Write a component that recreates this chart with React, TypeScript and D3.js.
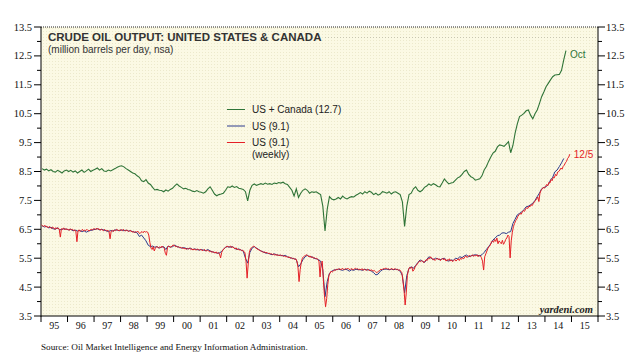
import React from 'react';
import * as d3 from 'd3';

// US + Canada, monthly, Jan 1995 - Oct 2014 (million b/d)
const usCanada = [
  8.60, 8.55, 8.58, 8.52, 8.56, 8.50, 8.48, 8.54, 8.50, 8.45, 8.52, 8.55,
  8.50, 8.54, 8.48, 8.52, 8.45, 8.50, 8.55, 8.47, 8.52, 8.58, 8.50, 8.54,
  8.58, 8.62, 8.55, 8.60, 8.52, 8.50, 8.55, 8.52, 8.56, 8.60, 8.65, 8.68,
  8.70, 8.66, 8.60, 8.55, 8.50, 8.45, 8.42, 8.35, 8.30, 8.18, 8.15, 8.22,
  8.10, 8.05, 7.95, 7.86, 7.88, 7.85, 7.84, 7.80, 7.86, 7.82, 7.88, 7.92,
  8.00, 8.07, 8.00, 7.95, 7.90, 7.92, 7.88, 7.86, 7.82, 7.80, 7.84, 7.80,
  7.78, 7.75, 7.80, 7.90, 7.97, 7.85, 7.72, 7.66, 7.70, 7.72, 7.75, 7.85,
  7.97, 7.95, 8.00, 7.95, 7.98, 7.92, 7.90, 7.88, 7.80, 7.48, 7.85, 8.02,
  8.07, 8.02, 8.05, 8.08, 8.05, 8.10, 8.06, 8.08, 8.05, 8.10, 8.08, 8.12,
  8.10, 8.13, 8.08, 8.05, 7.95, 7.85, 7.65, 7.90, 7.60, 7.75, 7.85, 7.90,
  7.85, 7.75, 7.80, 7.78, 7.80, 7.75, 7.70, 7.30, 6.44, 7.20, 7.63, 7.55,
  7.52, 7.55, 7.60, 7.55, 7.65, 7.58, 7.55, 7.60, 7.63, 7.62, 7.68, 7.72,
  7.77, 7.72, 7.80, 7.75, 7.82, 7.78, 7.70, 7.75, 7.68, 7.72, 7.80, 7.78,
  7.75, 7.80, 7.72, 7.78, 7.80, 7.75, 7.70, 7.45, 6.60, 7.30, 7.70, 7.75,
  7.90, 7.97, 7.85, 7.80, 7.85, 7.95, 8.00, 8.07, 8.02, 8.08, 8.04, 7.98,
  7.97, 8.10, 8.24, 8.15, 8.07, 8.10, 8.12, 8.20, 8.28, 8.32, 8.40, 8.50,
  8.55, 8.40, 8.32, 8.28, 8.20, 8.22, 8.25, 8.35, 8.55, 8.67, 8.85, 9.00,
  9.14, 9.20, 9.35, 9.42, 9.40, 9.37, 9.45, 9.53, 9.15, 9.40, 9.83, 10.15,
  10.40, 10.45, 10.51, 10.60, 10.63, 10.45, 10.32, 10.50, 10.63, 10.85, 11.09, 11.25,
  11.43, 11.55, 11.67, 11.78, 11.84, 11.85, 11.86, 12.00, 12.36, 12.68,
];

// US, monthly, Jan 1995 - Sep 2014
const usMonthly = [
  6.62, 6.58, 6.60, 6.55, 6.57, 6.52, 6.50, 6.55, 6.48, 6.50, 6.52, 6.50,
  6.48, 6.50, 6.45, 6.47, 6.44, 6.46, 6.42, 6.45, 6.40, 6.44, 6.46, 6.48,
  6.50, 6.52, 6.48, 6.50, 6.47, 6.45, 6.42, 6.46, 6.44, 6.48, 6.47, 6.45,
  6.48, 6.45, 6.47, 6.44, 6.45, 6.42, 6.40, 6.38, 6.25, 6.30, 6.20, 6.10,
  5.95, 5.90, 5.92, 5.88, 5.90, 5.85, 5.88, 5.90, 5.80, 5.92, 5.88, 5.90,
  5.95, 5.90, 5.88, 5.85, 5.87, 5.84, 5.82, 5.85, 5.80, 5.82, 5.80, 5.78,
  5.80, 5.78, 5.76, 5.80, 5.75, 5.72, 5.70, 5.68, 5.67, 5.72, 5.80, 5.88,
  5.90, 5.88, 5.90, 5.85, 5.80, 5.82, 5.78, 5.75, 5.50, 5.33, 5.70, 5.85,
  5.90, 5.85, 5.80, 5.75, 5.72, 5.68, 5.67, 5.65, 5.62, 5.65, 5.62, 5.60,
  5.60, 5.58, 5.60, 5.55, 5.52, 5.50, 5.48, 5.45, 5.20, 5.30, 5.45, 5.55,
  5.60, 5.55, 5.55, 5.50, 5.48, 5.45, 5.40, 5.10, 4.17, 4.70, 4.98, 5.05,
  5.09, 5.10, 5.12, 5.10, 5.08, 5.12, 5.10, 5.05, 5.10, 5.08, 5.12, 5.10,
  5.10, 5.08, 5.12, 5.09, 5.10, 5.05, 5.00, 4.92, 4.95, 5.05, 5.10, 5.12,
  5.12, 5.10, 5.12, 5.10, 5.12, 5.10, 5.05, 4.90, 4.30, 4.90, 5.15, 5.20,
  5.15, 5.25, 5.35, 5.44, 5.40, 5.35, 5.45, 5.55, 5.50, 5.45, 5.50, 5.48,
  5.44, 5.48, 5.50, 5.42, 5.40, 5.44, 5.42, 5.50, 5.48, 5.55, 5.52, 5.58,
  5.61, 5.55, 5.58, 5.60, 5.62, 5.60, 5.58, 5.62, 5.70, 5.80, 5.90, 6.00,
  6.13, 6.20, 6.28, 6.30, 6.37, 6.38, 6.35, 6.40, 6.42, 6.70, 6.85, 7.00,
  7.05, 7.10, 7.18, 7.28, 7.30, 7.35, 7.40, 7.50, 7.63, 7.75, 7.90, 7.95,
  7.97, 8.05, 8.20, 8.30, 8.49, 8.55, 8.67, 8.80, 8.95,
];

// US, weekly (read twice a month), Jan 1995 - 12/5/2014
const usWeekly = [
  6.65, 6.62, 6.60, 6.64, 6.58, 6.60, 6.55, 6.60, 6.57, 6.52, 6.58, 6.55, 6.50, 6.56, 6.52, 6.55, 6.50, 6.23, 6.52, 6.50, 6.55, 6.48, 6.52, 6.50,
  6.50, 6.46, 6.52, 6.48, 6.50, 6.45, 6.48, 6.44, 6.07, 6.45, 6.48, 6.42, 6.46, 6.50, 6.44, 6.47, 6.45, 6.50, 6.46, 6.44, 6.48, 6.50, 6.47, 6.52,
  6.52, 6.48, 6.54, 6.50, 6.52, 6.47, 6.50, 6.48, 6.45, 6.50, 6.46, 6.44, 6.47, 6.43, 6.17, 6.44, 6.46, 6.42, 6.48, 6.45, 6.50, 6.47, 6.45, 6.48,
  6.48, 6.45, 6.50, 6.46, 6.44, 6.48, 6.45, 6.42, 6.46, 6.44, 6.40, 6.43, 6.38, 6.42, 6.40, 6.44, 6.38, 6.35, 6.40, 6.42, 6.38, 6.44, 6.40, 6.42,
  6.40, 6.30, 6.05, 5.85, 5.80, 5.90, 5.75, 5.85, 5.90, 5.88, 5.85, 5.90, 5.86, 5.92, 5.88, 5.85, 5.67, 5.60, 5.88, 5.92, 5.90, 5.88, 5.92, 5.95,
  5.95, 5.90, 5.92, 5.88, 5.90, 5.86, 5.88, 5.84, 5.86, 5.82, 5.85, 5.80, 5.84, 5.82, 5.85, 5.80, 5.83, 5.78, 5.82, 5.80, 5.78, 5.82, 5.80, 5.78,
  5.80, 5.78, 5.76, 5.80, 5.78, 5.74, 5.78, 5.76, 5.72, 5.75, 5.70, 5.73, 5.70, 5.68, 5.72, 5.66, 5.70, 5.65, 5.51, 5.70, 5.78, 5.82, 5.86, 5.90,
  5.92, 5.88, 5.90, 5.92, 5.86, 5.90, 5.85, 5.82, 5.86, 5.80, 5.82, 5.78, 5.80, 5.76, 5.78, 5.72, 5.70, 5.40, 4.81, 5.30, 5.70, 5.82, 5.86, 5.90,
  5.92, 5.88, 5.85, 5.82, 5.80, 5.78, 5.76, 5.74, 5.72, 5.70, 5.72, 5.68, 5.70, 5.66, 5.68, 5.64, 5.66, 5.62, 5.65, 5.60, 5.63, 5.60, 5.62, 5.58,
  5.62, 5.58, 5.60, 5.56, 5.58, 5.54, 5.56, 5.52, 5.55, 5.50, 5.52, 5.48, 5.50, 5.46, 5.48, 5.40, 5.20, 4.69, 5.10, 5.35, 5.50, 5.55, 5.58, 5.60,
  5.62, 5.58, 5.55, 5.58, 5.52, 5.55, 5.50, 5.52, 5.48, 5.50, 5.45, 5.40, 4.85, 5.35, 5.40, 4.75, 4.20, 3.82, 4.10, 4.60, 4.90, 4.98, 5.05, 5.02,
  5.05, 5.10, 5.08, 5.12, 5.10, 5.14, 5.12, 5.10, 5.15, 5.12, 5.10, 5.14, 5.12, 5.16, 5.12, 5.10, 5.14, 5.12, 5.10, 5.13, 5.15, 5.12, 5.14, 5.10,
  5.12, 5.10, 5.14, 5.08, 5.12, 5.10, 5.08, 5.12, 5.10, 5.06, 5.10, 5.08, 5.05, 5.08, 5.04, 5.00, 5.02, 5.05, 5.08, 5.12, 5.10, 5.14, 5.12, 5.15,
  5.15, 5.12, 5.14, 5.10, 5.12, 5.15, 5.10, 5.12, 5.14, 5.10, 5.12, 5.08, 5.10, 5.05, 5.00, 4.70, 4.40, 3.88, 4.30, 4.90, 5.10, 5.18, 5.15, 5.20,
  5.05, 5.10, 5.20, 5.25, 5.30, 5.35, 5.40, 5.38, 5.42, 5.38, 5.35, 5.40, 5.45, 5.42, 5.50, 5.48, 5.55, 5.50, 5.45, 5.48, 5.42, 5.46, 5.50, 5.45,
  5.48, 5.42, 5.46, 5.50, 5.44, 5.48, 5.40, 5.45, 5.42, 5.48, 5.40, 5.44, 5.38, 5.42, 5.46, 5.40, 5.44, 5.48, 5.42, 5.50, 5.46, 5.52, 5.48, 5.55,
  5.58, 5.52, 5.56, 5.60, 5.55, 5.58, 5.62, 5.56, 5.60, 5.58, 5.62, 5.55, 5.60, 5.58, 5.52, 5.40, 5.09, 5.55, 5.65, 5.75, 5.85, 5.90, 5.95, 6.05,
  6.10, 6.05, 6.15, 6.08, 6.20, 6.00, 6.10, 6.05, 6.00, 6.12, 5.98, 6.05, 6.15, 6.20, 6.30, 6.25, 5.51, 6.10, 6.40, 6.60, 6.70, 6.80, 6.85, 6.95,
  7.00, 7.05, 7.02, 7.10, 7.15, 7.12, 7.20, 7.25, 7.22, 7.30, 7.28, 7.35, 7.32, 7.40, 7.45, 7.50, 7.55, 7.62, 7.46, 7.75, 7.85, 7.90, 7.95, 7.92,
  7.98, 8.05, 8.00, 8.12, 8.10, 8.22, 8.18, 8.30, 8.28, 8.40, 8.35, 8.48, 8.50, 8.55, 8.62, 8.58, 8.68, 8.72, 8.80, 8.85, 8.95, 9.00, 9.10,
];

const yearLabels = ['95', '96', '97', '98', '99', '00', '01', '02', '03', '04', '05',
  '06', '07', '08', '09', '10', '11', '12', '13', '14', '15'];
const majorTicks = [3.5, 4.5, 5.5, 6.5, 7.5, 8.5, 9.5, 10.5, 11.5, 12.5, 13.5];
const minorTicks = [4, 5, 6, 7, 8, 9, 10, 11, 12, 13];

const legendItems = [
  { label: 'US + Canada (12.7)', color: '#2f7437' },
  { label: 'US (9.1)', color: '#2c3a8c' },
  { label: 'US (9.1)', color: '#e51f26', sub: '(weekly)' },
];

const SANS = '"Liberation Sans", Arial, sans-serif';
const SERIF = '"Liberation Serif", "Times New Roman", serif';

export default function App() {
  const width = 637;
  const height = 354;
  const left = 41, right = 598, top = 27, bottom = 316;

  const x = d3.scaleLinear().domain([1995, 2016]).range([left, right]);
  const y = d3.scaleLinear().domain([3.5, 13.5]).range([bottom, top]);

  const line = d3.line<[number, number]>()
    .x(d => x(d[0]))
    .y(d => y(d[1]));

  // monthly points sit mid-month, weekly readings twice a month
  const monthly = (arr: number[]) => arr.map((v, i) => [1995 + (i + 0.5) / 12, v] as [number, number]);
  const halfMonthly = (arr: number[]) => arr.map((v, i) => [1995 + (i + 0.5) / 24, v] as [number, number]);

  const greenPts = monthly(usCanada);
  const bluePts = monthly(usMonthly);
  const redPts = halfMonthly(usWeekly);
  const greenEnd = greenPts[greenPts.length - 1];
  const redEnd = redPts[redPts.length - 1];

  const years = d3.range(1995, 2017);

  return (
    <svg width={width} height={height} style={{ position: 'absolute', left: 0, top: 0, background: '#fff' }}>
      <defs>
        <pattern id="dots" width="3" height="3" patternUnits="userSpaceOnUse">
          <rect width="3" height="3" fill="#fbf9e4" />
          <rect x="1" y="1" width="1" height="1" fill="#ece9cc" />
        </pattern>
      </defs>

      <rect x={left} y={top} width={right - left} height={bottom - top} fill="url(#dots)" />

      {/* frame */}
      <line x1={left} x2={right} y1={top} y2={top} stroke="#222" strokeDasharray="1,1" />
      <line x1={325} x2={right} y1={37.5} y2={37.5} stroke="#c8c6b0" strokeDasharray="1,2" />
      <line x1={left} x2={left} y1={top} y2={bottom + 0.5} stroke="#000" />
      <line x1={right} x2={right} y1={top} y2={bottom + 0.5} stroke="#000" />
      <line x1={left} x2={right} y1={bottom} y2={bottom} stroke="#000" />

      {/* y ticks both sides */}
      {majorTicks.map(t => (
        <g key={'M' + t}>
          <line x1={left - 7} x2={left} y1={y(t)} y2={y(t)} stroke="#000" />
          <line x1={right} x2={right + 7} y1={y(t)} y2={y(t)} stroke="#000" />
          <text x={left - 9} y={y(t) + 3.5} textAnchor="end" fontFamily={SERIF} fontSize={10.5} fill="#111">{t.toFixed(1)}</text>
          <text x={right + 8} y={y(t) + 3.5} fontFamily={SERIF} fontSize={10.5} fill="#111">{t.toFixed(1)}</text>
        </g>
      ))}
      {minorTicks.map(t => (
        <g key={'m' + t}>
          <line x1={left - 4} x2={left} y1={y(t)} y2={y(t)} stroke="#000" />
          <line x1={right} x2={right + 4} y1={y(t)} y2={y(t)} stroke="#000" />
        </g>
      ))}

      {/* x ticks and year labels */}
      {years.map(yr => (
        <line key={yr} x1={x(yr)} x2={x(yr)} y1={bottom} y2={bottom + 6} stroke="#000" />
      ))}
      {yearLabels.map((lab, i) => (
        <text key={lab} x={x(1995 + i + 0.5)} y={bottom + 13} textAnchor="middle" fontFamily={SERIF} fontSize={10} fill="#111">{lab}</text>
      ))}

      {/* series */}
      <path d={line(greenPts) || ''} fill="none" stroke="#2f7437" strokeWidth={1.1} />
      <path d={line(bluePts) || ''} fill="none" stroke="#2c3a8c" strokeWidth={1} />
      <path d={line(redPts) || ''} fill="none" stroke="#e51f26" strokeWidth={1} />

      <text x={x(greenEnd[0]) + 4} y={y(greenEnd[1]) + 7} fontFamily={SANS} fontSize={10} fill="#2f7437">Oct</text>
      <text x={x(redEnd[0]) + 4} y={y(redEnd[1]) + 4} fontFamily={SANS} fontSize={10} fill="#e51f26">12/5</text>

      {/* title */}
      <text x={48} y={41} fontFamily={SANS} fontSize={11.5} fontWeight="bold" fill="#333">CRUDE OIL OUTPUT: UNITED STATES &amp; CANADA</text>
      <text x={48} y={53} fontFamily={SANS} fontSize={10} fill="#333">(million barrels per day, nsa)</text>

      {/* legend */}
      {legendItems.map((d, i) => {
        const ly = 109.5 + i * 16.5;
        return (
          <g key={i}>
            <line x1={227} x2={245} y1={ly} y2={ly} stroke={d.color} strokeWidth={1} />
            <text x={252} y={ly + 3.5} fontFamily={SANS} fontSize={10} fill="#222">{d.label}</text>
            {d.sub && <text x={252} y={ly + 15} fontFamily={SANS} fontSize={10} fill="#222">{d.sub}</text>}
          </g>
        );
      })}

      <text x={593} y={313} textAnchor="end" fontFamily={SERIF} fontStyle="italic" fontWeight="bold" fontSize={10.5} fill="#222">yardeni.com</text>

      <text x={41} y={350} fontFamily={SERIF} fontSize={9.2} fill="#111">Source: Oil Market Intelligence and Energy Information Administration.</text>
    </svg>
  );
}
